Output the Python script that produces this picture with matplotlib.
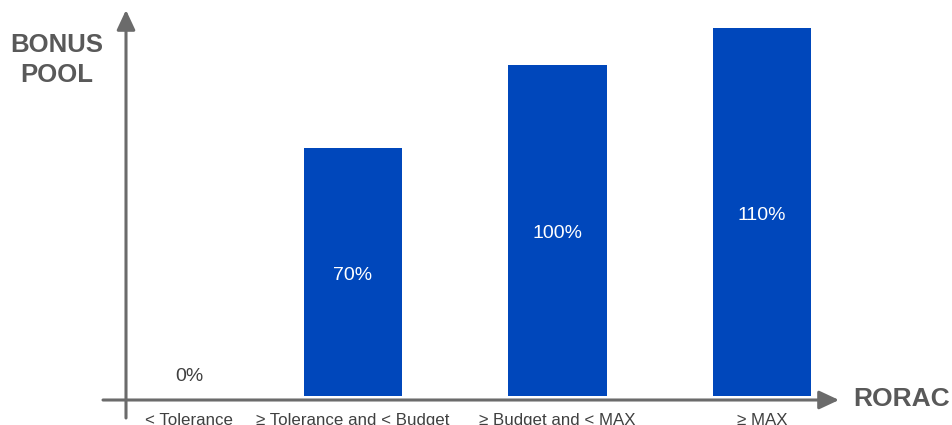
"""
Bonus pool by RORAC band.
"""

import matplotlib
matplotlib.use("Agg")
from matplotlib import pyplot as plt

plt.rcParams["font.family"] = ["Liberation Sans", "DejaVu Sans"]

# data
categories = ["< Tolerance", "≥ Tolerance and < Budget",
              "≥ Budget and < MAX", "≥ MAX"]
value_labels = ["0%", "70%", "100%", "110%"]
bar_heights = [0, 75, 100, 111.2]   # drawn heights (schematic, not to scale)

positions = [0.2, 1, 2, 3]

W, H = 953, 425
bar_color = "#0047BB"
axis_color = "#6b6b6b"
title_color = "#595959"
tick_color = "#404040"


def px(x, y_top):
    """pixel (from top-left) -> figure fraction"""
    return x / W, 1 - y_top / H


if __name__ == "__main__":

    fig = plt.figure(figsize=(W / 100, H / 100), dpi=100)
    ax = fig.add_axes([0, 0, 1, 1])

    # map data to pixels: bar 2 centre at 353 px, 204.5 px per category,
    # baseline at 396 px from top, 3.31 px per unit
    ax.set_xlim(1 - 353 / 204.5, 1 + (W - 353) / 204.5)
    ax.set_ylim(-29 / 3.31, (H - 29) / 3.31)
    ax.axis("off")

    for i, (p, h) in enumerate(zip(positions, bar_heights)):
        if h > 0:
            ax.bar(p, h, width=0.484, color=bar_color, zorder=2)
            ax.text(p, h / 2 - 1, value_labels[i], color="white",
                    fontsize=14, ha="center", va="center", zorder=3)
        else:
            ax.text(p, 5.8, value_labels[i], color=tick_color, fontsize=14,
                    ha="center", va="center")

    # axes drawn as arrows
    arrow = dict(arrowstyle="-|>,head_length=0.6,head_width=0.28",
                 lw=2.2, color=axis_color, mutation_scale=20,
                 shrinkA=0, shrinkB=0)
    fig.add_artist(plt.Annotation("", xy=px(126, 10), xytext=px(126, 418),
                                  xycoords="figure fraction",
                                  textcoords="figure fraction",
                                  arrowprops=arrow))
    fig.add_artist(plt.Annotation("", xy=px(839, 400), xytext=px(103, 400),
                                  xycoords="figure fraction",
                                  textcoords="figure fraction",
                                  arrowprops=arrow))

    # category labels under the x axis
    for p, c in zip(positions, categories):
        ax.text(p, -5.0, c, color=tick_color, fontsize=12.2,
                ha="center", va="top")

    fig.text(*px(57, 60), "BONUS\nPOOL", color=title_color, fontsize=18.5,
             fontweight="bold", ha="center", va="center", linespacing=1.3)
    fig.text(*px(853, 399), "RORAC", color=title_color, fontsize=19,
             fontweight="bold", ha="left", va="center")

    fig.savefig("out.png", dpi=100)
